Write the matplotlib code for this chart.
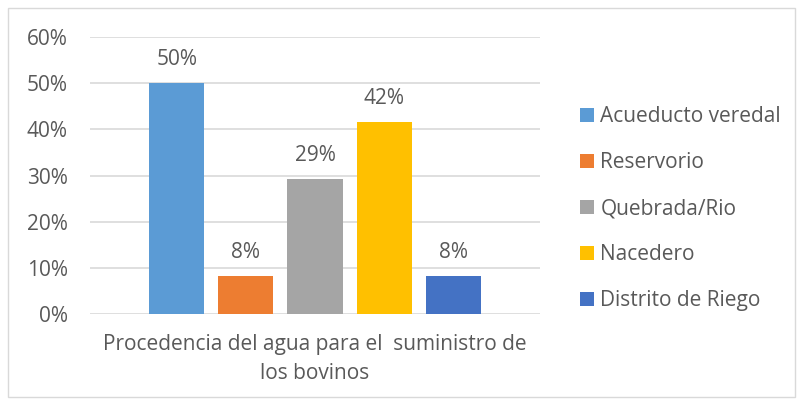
import matplotlib
matplotlib.use("Agg")
import matplotlib.pyplot as plt
from matplotlib.patches import Rectangle
from matplotlib.ticker import FuncFormatter

categories = ["Acueducto veredal", "Reservorio", "Quebrada/Rio", "Nacedero", "Distrito de Riego"]
values = [50.0, 8.33, 29.17, 41.67, 8.33]
labels = ["50%", "8%", "29%", "42%", "8%"]
colors = ["#5B9BD5", "#ED7D31", "#A5A5A5", "#FFC000", "#4472C4"]
yticks = [0, 10, 20, 30, 40, 50, 60]
xlabel = "Procedencia del agua para el  suministro de\nlos bovinos"

plt.rcParams['font.family'] = ['Open Sans', 'DejaVu Sans']
txt = "#595959"
fs = 15

fig = plt.figure(figsize=(8.01, 4.0), dpi=100)
ax = fig.add_axes([90/801, 86/400, 450/801, 277/400])

xs = [i - 2 for i in range(len(values))]
bars = ax.bar(xs, values, width=0.797, color=colors, zorder=3)
for x, v, l in zip(xs, values, labels):
    ax.text(x, v + 2.8, l, ha='center', va='bottom', fontsize=fs, color=txt)

ax.set_xlim(-3.26, 3.26)
ax.set_ylim(0, 60)
ax.set_yticks(yticks)
ax.yaxis.set_major_formatter(FuncFormatter(lambda v, p: f"{int(v)}%"))
ax.set_xticks([])
ax.grid(axis='y', color='#D9D9D9', linewidth=1.2, zorder=0)
for s in ax.spines.values():
    s.set_visible(False)
ax.tick_params(axis='y', length=0, labelsize=fs, labelcolor=txt, pad=16)

fig.text(315/801, 1 - 359/400, xlabel, ha='center', va='center', fontsize=fs,
         color=txt, linespacing=1.5)

leg = ax.legend(bars, categories, loc='upper left', bbox_to_anchor=(580/801, 1 - 106/400),
                bbox_transform=fig.transFigure, frameon=False, fontsize=fs,
                labelcolor=txt, handlelength=0.68, handleheight=0.68, handletextpad=0.3,
                labelspacing=1.2, borderaxespad=0, borderpad=0)

fig.patches.append(Rectangle((8/801, 3/400), 787/801, 389/400, transform=fig.transFigure,
                             fill=False, edgecolor='#D9D9D9', linewidth=1.0))

fig.savefig("out.png", dpi=100, facecolor='white')
